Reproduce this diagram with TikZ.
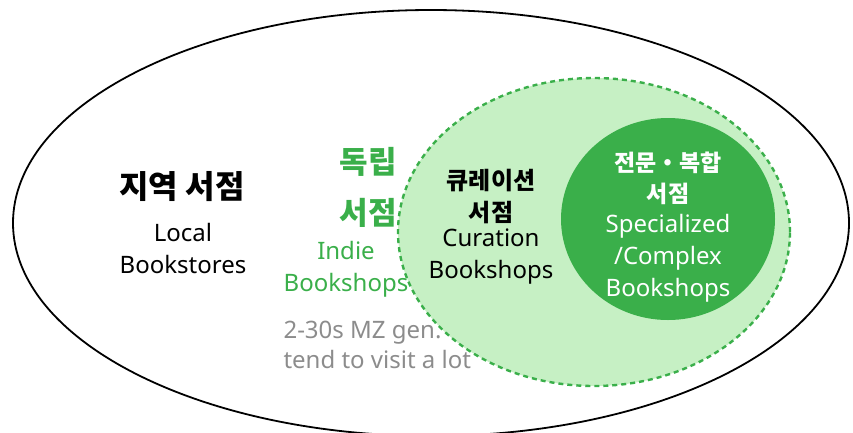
\documentclass[tikz,border=0pt]{standalone}
\usepackage{fontspec}
\setmainfont{Noto Sans}
\newfontfamily\kofont{Noto Sans CJK KR}
\usetikzlibrary{shapes.geometric}
\definecolor{bookgreen}{HTML}{3AAF4A}
\definecolor{palegreen}{HTML}{C6F0C4}
\definecolor{notegray}{HTML}{8C8C8C}

\begin{document}
\begin{tikzpicture}[%
    x=1pt, y=-1pt,
    region/.style={ellipse, inner sep=0pt},
    title/.style={font=\kofont\fontsize{32}{32}\selectfont\bfseries, align=center},
    label/.style={font=\fontsize{24}{32}\selectfont, align=center}
  ]
    \useasboundingbox (0,0) rectangle (853,432);

    % nested regions
    \node[region, draw=black, line width=1.8pt,
          minimum width=836pt, minimum height=426pt] (local) at (431,223) {};
    \node[region, fill=palegreen, draw=bookgreen, line width=2.4pt,
          dash pattern=on 5pt off 4pt,
          minimum width=392pt, minimum height=308pt] (curation) at (594,232) {};
    \node[region, fill=bookgreen,
          minimum width=214pt, minimum height=202pt] (special) at (668,219) {};

    % labels
    \node[title] (localKo) at (182,187) {지역 서점};
    \node[label] (localEn) at (183,248) {Local\\Bookstores};

    \node[title, text=bookgreen, font=\kofont\fontsize{31}{51}\selectfont\bfseries]
         (indieKo) at (368,187) {독립\\서점};
    \node[label, text=bookgreen] (indieEn) at (346,269) {Indie\\Bookshops};
    \node[label, text=notegray, align=left, font=\fontsize{24}{30}\selectfont,
          anchor=west] (indieNote) at (280,345) {2-30s MZ gen.\\tend to visit a lot};

    \node[title, font=\kofont\fontsize{24}{32}\selectfont\bfseries] (curationKo) at (491,197) {큐레이션\\서점};
    \node[label] (curationEn) at (491,257) {Curation\\Bookshops};

    \node[title, text=white, font=\kofont\fontsize{23}{31}\selectfont\bfseries]
         (specialKo) at (668,178) {전문・복합\\서점};
    \node[label, text=white] (specialEn) at (668,258) {Specialized\\/Complex\\Bookshops};
\end{tikzpicture}
\end{document}
